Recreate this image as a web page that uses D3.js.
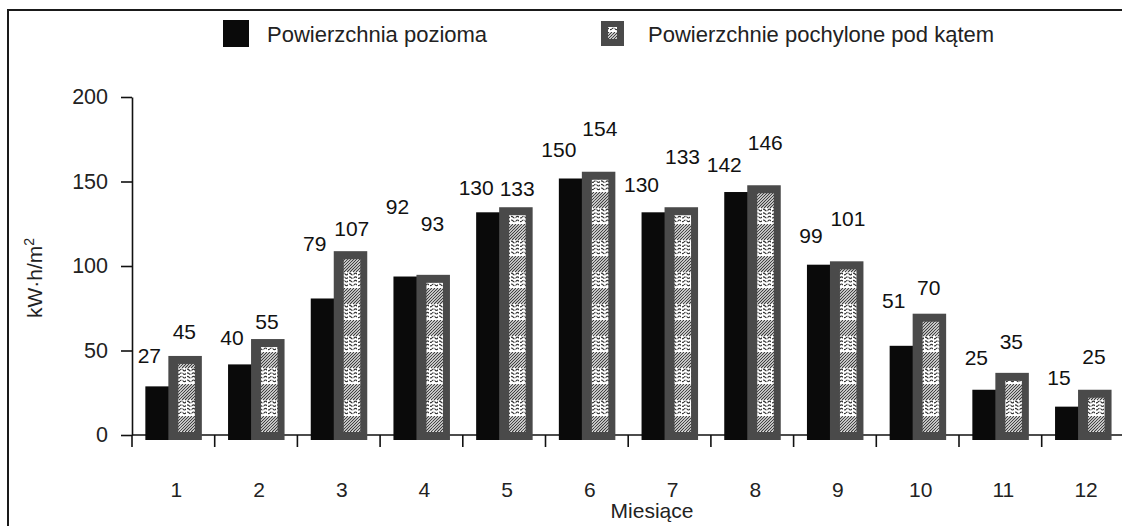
<!DOCTYPE html>
<html>
<head>
<meta charset="utf-8">
<script src="https://cdn.jsdelivr.net/npm/d3@7"></script>
<style>
  html, body { margin: 0; padding: 0; background: #fff; }
  svg { display: block; font-family: "Liberation Sans", Arial, sans-serif; }
</style>
</head>
<body>
<svg id="chart" width="1122" height="526"></svg>
<script>
// Monthly solar irradiation, kWh per square metre
const months = ["1", "2", "3", "4", "5", "6", "7", "8", "9", "10", "11", "12"];
const horizontal = [27, 40, 79, 92, 130, 150, 130, 142, 99, 51, 25, 15];
const tilted = [45, 55, 107, 93, 133, 154, 133, 146, 101, 70, 35, 25];
const yTicks = [0, 50, 100, 150, 200];
const seriesNames = ["Powierzchnia pozioma", "Powierzchnie pochylone pod kątem"];
const xTitle = "Miesiące";

// how far (px) each value label sits above the top of its bar
const liftHorizontal = [23, 19, 47, 63, 17, 22, 20, 20, 22, 38, 25, 22];
const liftTilted = [17, 10, 15, 44, 11, 36, 43, 35, 35, 19, 24, 26];

(function () {
const svg = d3.select("#chart");
const W = 1122, H = 526;

svg.append("rect").attr("width", W).attr("height", H).attr("fill", "#fff");

// texture used inside the tilted-surface bars
const defs = svg.append("defs");
const pat = defs.append("pattern")
  .attr("id", "tex").attr("patternUnits", "userSpaceOnUse")
  .attr("width", 18).attr("height", 32);
pat.append("rect").attr("width", 18).attr("height", 32).attr("fill", "#fff");
// diagonal hatch band
const hatch = pat.append("g").attr("stroke", "#3a3a3a").attr("stroke-width", 1.1);
for (let k = -16; k < 34; k += 3) {
  hatch.append("line").attr("x1", k).attr("y1", 16).attr("x2", k + 16).attr("y2", 0);
}
// wavy band
const wave = pat.append("g").attr("stroke", "#333").attr("stroke-width", 1.2).attr("fill", "none");
for (let r = 0; r < 4; r++) {
  const yy = 18 + r * 3.6;
  wave.append("path").attr("d", `M0,${yy} q1.5,-1.6 3,0 t3,0 t3,0 t3,0 t3,0 t3,0`);
}
const vbars = pat.append("g").attr("stroke", "#fff").attr("stroke-width", 1);
for (let c = 2; c < 18; c += 4.5) {
  vbars.append("line").attr("x1", c).attr("y1", 16.5).attr("x2", c).attr("y2", 31.5);
}

// outer frame
svg.append("rect")
  .attr("x", 8).attr("y", 10).attr("width", 1200).attr("height", 600)
  .attr("fill", "none").attr("stroke", "#1a1a1a").attr("stroke-width", 2);

// scales
const y = d3.scaleLinear().domain([0, 200]).range([435, 97]);
const x = d3.scaleBand().domain(months).range([132, 132 + 12 * 82.7]).paddingInner(0).paddingOuter(0);
const bw = x.bandwidth();

// y axis
const yAxis = svg.append("g").attr("transform", "translate(132,0)")
  .call(d3.axisLeft(y).tickValues(yTicks).tickSize(11).tickSizeOuter(0).tickPadding(13));
yAxis.select(".domain").attr("stroke", "#111").attr("stroke-width", 1.6);
yAxis.selectAll(".tick line").attr("stroke", "#111").attr("stroke-width", 1.6);
yAxis.selectAll(".tick text").attr("font-size", 21.5).attr("fill", "#222")
  .attr("font-family", "Liberation Sans, Arial, sans-serif");

// x axis: baseline, boundary ticks, month labels
const xAxis = svg.append("g").attr("transform", "translate(0,435)")
  .call(d3.axisBottom(x).tickSize(0).tickPadding(47));
xAxis.select(".domain").attr("d", `M132,0H${W}`).attr("stroke", "#111").attr("stroke-width", 1.6);
xAxis.selectAll(".tick text").attr("font-size", 21).attr("fill", "#222")
  .attr("dx", 3)
  .attr("font-family", "Liberation Sans, Arial, sans-serif");
svg.append("g").selectAll("line").data(months).join("line")
  .attr("x1", d => x(d)).attr("x2", d => x(d))
  .attr("y1", 435).attr("y2", 447)
  .attr("stroke", "#111").attr("stroke-width", 1.6);

// bars
const base = y(0) + 5;
const barTop = v => y(v) - 3;
const cx = d => x(d) + bw / 2;

const groups = svg.append("g").selectAll("g").data(months).join("g");

groups.append("rect")
  .attr("x", d => cx(d) - 28).attr("width", 33)
  .attr("y", (d, i) => barTop(horizontal[i]))
  .attr("height", (d, i) => base - barTop(horizontal[i]))
  .attr("fill", "#0a0a0a");

groups.append("rect")
  .attr("x", d => cx(d) - 5).attr("width", 33.5)
  .attr("y", (d, i) => barTop(tilted[i]))
  .attr("height", (d, i) => base - barTop(tilted[i]))
  .attr("fill", "#4a4a4a");

groups.append("rect")
  .attr("x", d => cx(d) + 5).attr("width", 16.5)
  .attr("y", (d, i) => barTop(tilted[i]) + 8)
  .attr("height", (d, i) => Math.max(0, base - barTop(tilted[i]) - 16))
  .attr("fill", "url(#tex)");

// value labels: the left label leans left and the right one right,
// a little more for three-digit numbers so the pair never touches
const labelSize = 21;
const digits = v => String(v).length;

groups.append("text")
  .attr("x", (d, i) => cx(d) - (digits(horizontal[i]) > 2 ? 28 : 24))
  .attr("y", (d, i) => barTop(horizontal[i]) - liftHorizontal[i])
  .attr("text-anchor", "middle").attr("font-size", labelSize).attr("fill", "#111")
  .text((d, i) => horizontal[i]);

groups.append("text")
  .attr("x", (d, i) => cx(d) + (digits(tilted[i]) > 2 ? 13 : 11))
  .attr("y", (d, i) => barTop(tilted[i]) - liftTilted[i])
  .attr("text-anchor", "middle").attr("font-size", labelSize).attr("fill", "#111")
  .text((d, i) => tilted[i]);

// axis titles
svg.append("text")
  .attr("x", 652).attr("y", 518)
  .attr("text-anchor", "middle").attr("font-size", 21).attr("fill", "#222")
  .text(xTitle);

const yt = svg.append("text")
  .attr("transform", "translate(42,318) rotate(-90)")
  .attr("font-size", 21).attr("fill", "#222");
yt.append("tspan").text("kW·h/m");
yt.append("tspan").attr("font-size", 14).attr("dy", -8).text("2");

// legend
const legend = svg.append("g");
legend.append("rect").attr("x", 223).attr("y", 20).attr("width", 26).attr("height", 27).attr("fill", "#0a0a0a");
legend.append("text").attr("x", 267).attr("y", 42).attr("font-size", 22).attr("fill", "#222").text(seriesNames[0]);
legend.append("rect").attr("x", 601).attr("y", 21).attr("width", 23).attr("height", 25).attr("fill", "#4a4a4a");
legend.append("rect").attr("x", 608).attr("y", 27).attr("width", 9).attr("height", 12).attr("fill", "url(#tex)");
legend.append("text").attr("x", 648).attr("y", 42).attr("font-size", 22).attr("fill", "#222").text(seriesNames[1]);
})();
</script>
</body>
</html>
